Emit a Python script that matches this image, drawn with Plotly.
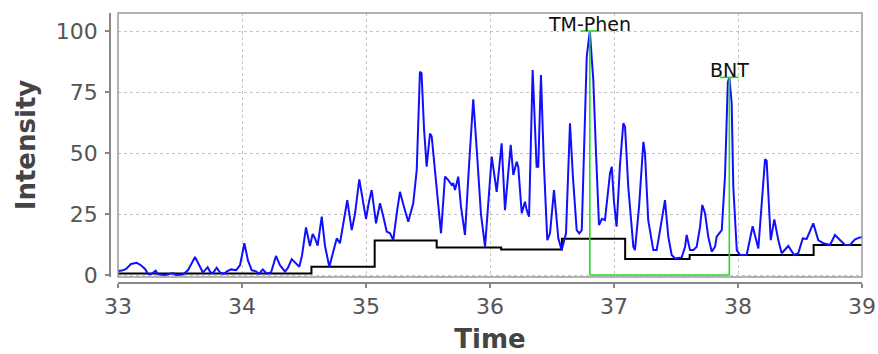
import plotly.graph_objects as go

# ---- data ----
time = [33.000, 33.032, 33.065, 33.105, 33.151, 33.185, 33.218, 33.242, 33.266, 33.304,
        33.323, 33.379, 33.444, 33.468, 33.524, 33.565, 33.621, 33.661, 33.685, 33.723,
        33.746, 33.766, 33.796, 33.823, 33.855, 33.879, 33.911, 33.952, 33.984, 34.019,
        34.048, 34.078, 34.113, 34.137, 34.167, 34.199, 34.234, 34.274, 34.306, 34.347,
        34.371, 34.401, 34.427, 34.462, 34.484, 34.516, 34.548, 34.570, 34.589, 34.610,
        34.643, 34.669, 34.704, 34.734, 34.764, 34.790, 34.823, 34.849, 34.885, 34.911,
        34.946, 34.968, 35.000, 35.024, 35.046, 35.081, 35.113, 35.140, 35.167, 35.194,
        35.220, 35.250, 35.274, 35.306, 35.341, 35.381, 35.409, 35.435, 35.448, 35.468,
        35.489, 35.516, 35.530, 35.556, 35.581, 35.605, 35.637, 35.664, 35.691, 35.704,
        35.718, 35.744, 35.766, 35.798, 35.831, 35.865, 35.895, 35.927, 35.960, 35.984,
        36.014, 36.054, 36.094, 36.121, 36.167, 36.188, 36.215, 36.228, 36.256, 36.282,
        36.296, 36.315, 36.344, 36.376, 36.389, 36.411, 36.435, 36.462, 36.484, 36.516,
        36.551, 36.578, 36.613, 36.645, 36.669, 36.699, 36.720, 36.740, 36.780, 36.805,
        36.833, 36.855, 36.879, 36.903, 36.927, 36.968, 36.982, 37.000, 37.021, 37.048,
        37.075, 37.089, 37.115, 37.156, 37.169, 37.202, 37.237, 37.250, 37.276, 37.317,
        37.344, 37.385, 37.411, 37.438, 37.465, 37.492, 37.546, 37.573, 37.586, 37.613,
        37.640, 37.667, 37.694, 37.712, 37.734, 37.760, 37.788, 37.815, 37.828, 37.869,
        37.895, 37.918, 37.930, 37.949, 37.962, 37.990, 38.016, 38.070, 38.118, 38.164,
        38.218, 38.231, 38.264, 38.293, 38.325, 38.352, 38.406, 38.452, 38.486, 38.522,
        38.554, 38.607, 38.647, 38.688, 38.742, 38.782, 38.823, 38.863, 38.903, 38.944,
        38.984, 39.000]
intensity = [1.6, 1.8, 2.5, 4.5, 5.0, 4.0, 2.5, 0.5, 0.3, 1.8,
             0.3, 0.0, 0.8, 0.0, 0.2, 2.0, 7.4, 3.0, 1.0, 3.2,
             1.0, 0.8, 3.0, 1.0, 0.5, 1.5, 2.3, 2.0, 4.0, 13.0,
             6.0, 2.0, 1.5, 0.5, 2.3, 0.6, 1.0, 7.8, 4.0, 1.4,
             3.0, 6.5, 5.0, 3.4, 8.0, 19.5, 11.9, 16.8, 15.0, 12.0,
             23.9, 12.0, 3.4, 9.0, 15.0, 13.0, 22.0, 30.7, 18.4, 25.0,
             39.2, 33.0, 23.0, 30.0, 34.8, 21.2, 29.4, 23.9, 17.8, 17.1,
             14.3, 26.0, 34.1, 28.0, 21.8, 29.4, 43.0, 83.3, 82.7, 60.0,
             44.4, 58.0, 56.7, 43.0, 30.0, 17.1, 40.3, 38.9, 36.9, 37.6,
             34.8, 40.3, 28.0, 16.4, 45.0, 72.0, 50.0, 25.0, 11.6, 30.0,
             48.5, 34.1, 54.0, 26.6, 53.3, 41.0, 46.4, 44.4, 25.3, 30.0,
             26.6, 23.9, 84.0, 44.4, 44.4, 82.0, 45.0, 14.3, 17.1, 34.8,
             15.0, 10.2, 17.1, 62.2, 40.0, 18.4, 17.1, 18.4, 89.5, 100.0,
             80.0, 50.0, 20.5, 23.0, 22.5, 41.7, 44.4, 30.0, 19.8, 45.0,
             62.2, 60.8, 36.2, 11.6, 10.2, 28.0, 54.6, 49.9, 22.5, 10.2,
             10.2, 22.5, 30.7, 15.7, 8.2, 6.8, 7.2, 11.6, 16.4, 10.2,
             10.2, 11.6, 19.8, 28.7, 25.3, 15.7, 9.6, 11.6, 15.7, 18.4,
             40.3, 79.0, 81.0, 70.4, 36.2, 10.2, 8.2, 8.2, 20.0, 10.9,
             47.4, 46.8, 14.3, 22.8, 14.3, 8.9, 11.9, 8.2, 8.9, 15.0,
             14.8, 21.2, 14.3, 13.0, 12.3, 16.4, 14.3, 12.3, 12.3, 14.6,
             15.4, 15.5]

baseline_time = [33.0, 34.56, 35.07, 35.57, 36.09, 36.58, 37.09, 37.61, 38.61, 39.0]
baseline_value = [0.6, 3.4, 14.1, 11.3, 10.5, 14.9, 6.6, 8.2, 12.3, 12.3]

peak_names = ["TM-Phen", "BNT"]
peak_times = [36.805, 37.93]
peak_heights = [100.0, 81.0]
peak_cap_halfwidth = 0.075

x_ticks = [33, 34, 35, 36, 37, 38, 39]
y_ticks = [0, 25, 50, 75, 100]

# ---- figure ----
fig = go.Figure()

fig.add_trace(go.Scatter(x=baseline_time, y=baseline_value, mode="lines",
                         line=dict(color="#000000", width=2, shape="hv"),
                         hoverinfo="skip", showlegend=False))

fig.add_trace(go.Scatter(x=time, y=intensity, mode="lines",
                         line=dict(color="#1010ff", width=2),
                         showlegend=False))

# green peak markers built from the peak arrays
gx, gy = [], []
for t, h in zip(peak_times, peak_heights):
    gx += [t, t, None, t - peak_cap_halfwidth, t + peak_cap_halfwidth, None]
    gy += [0, h, None, h, h, None]
gx += [peak_times[0], peak_times[-1]]
gy += [0, 0]
fig.add_trace(go.Scatter(x=gx, y=gy, mode="lines",
                         line=dict(color="#22dd22", width=1.6),
                         hoverinfo="skip", showlegend=False))

for name, t, h in zip(peak_names, peak_times, peak_heights):
    fig.add_annotation(x=t, y=h, text=name, showarrow=False, yanchor="bottom",
                       yshift=-6, font=dict(family="DejaVu Sans", size=19, color="#111111"))

# plot frame
fig.add_shape(type="rect", xref="x domain", yref="y domain", x0=0, x1=1, y0=0, y1=1,
              line=dict(color="#999999", width=1.5), layer="above")

W, H = 878, 354
ml, mr, mt, mb = 110, 16, 13, 71
pw = W - ml - mr
ph = H - mt - mb

fig.update_layout(
    width=W, height=H,
    margin=dict(l=ml, r=mr, t=mt, b=mb, pad=0, autoexpand=False),
    paper_bgcolor="white", plot_bgcolor="white",
    font=dict(family="DejaVu Sans", color="#555555"),
    xaxis=dict(range=[33, 39], domain=[8 / pw, 1], anchor="free", position=0,
               automargin=False,
               tickvals=x_ticks, ticktext=[str(v) for v in x_ticks],
               showline=True, linecolor="#888888", linewidth=1.5,
               ticks="outside", ticklen=4, tickcolor="#888888", tickwidth=1.5,
               tickfont=dict(size=22, color="#555555"),
               showgrid=True, gridcolor="#c4c4c4", gridwidth=1, griddash="3px,3px",
               zeroline=False,
               title=dict(text="<b>Time</b>", font=dict(size=26, color="#444444"), standoff=13)),
    yaxis=dict(range=[-0.82, 107.38], domain=[6 / ph, 1], anchor="free", position=0,
               automargin=False,
               tickvals=y_ticks, ticktext=[str(v) for v in y_ticks],
               showline=True, linecolor="#888888", linewidth=1.5,
               ticks="outside", ticklen=4, tickcolor="#888888", tickwidth=1.5,
               ticklabelstandoff=3,
               tickfont=dict(size=22, color="#555555"),
               showgrid=True, gridcolor="#c4c4c4", gridwidth=1, griddash="3px,3px",
               zeroline=False,
               title=dict(text="<b>Intensity</b>", font=dict(size=26, color="#444444"), standoff=12)),
)

fig.write_html("out.html",
               config={"displayModeBar": False},
               post_script="document.documentElement.style.overflow='hidden';"
                           "document.body.style.overflow='hidden';"
                           "document.body.style.margin='0';")
